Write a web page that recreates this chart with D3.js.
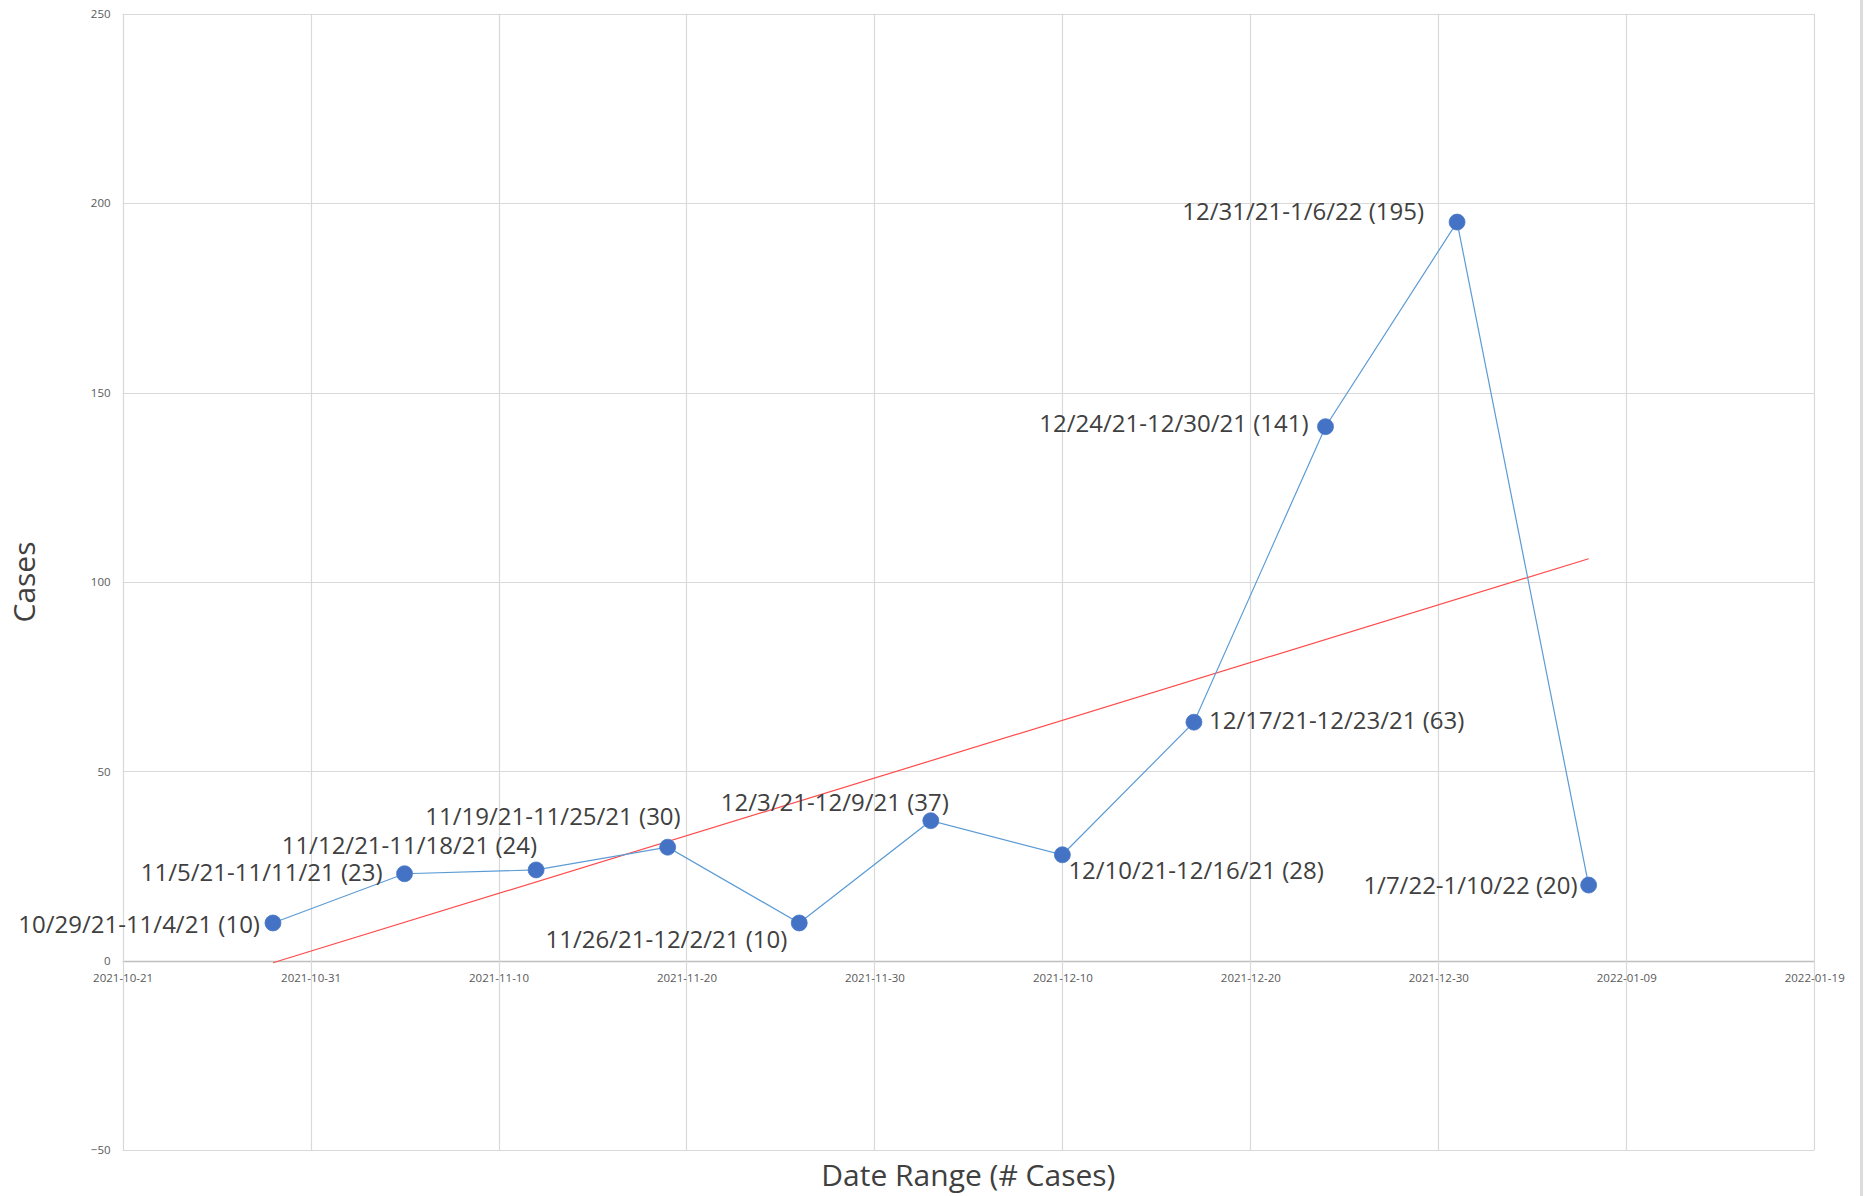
<!DOCTYPE html>
<html>
<head>
<meta charset="utf-8">
<script src="https://cdn.jsdelivr.net/npm/d3@7"></script>
<style>
  html, body { margin: 0; padding: 0; background: #fff; }
  svg { display: block; }
  text { font-family: "Open Sans", "Noto Sans", sans-serif; }
</style>
</head>
<body>
<script>
// ---- data ----
const startDates = ["2021-10-29","2021-11-05","2021-11-12","2021-11-19","2021-11-26","2021-12-03","2021-12-10","2021-12-17","2021-12-24","2021-12-31","2022-01-07"];
const rangeLabels = ["10/29/21-11/4/21","11/5/21-11/11/21","11/12/21-11/18/21","11/19/21-11/25/21","11/26/21-12/2/21","12/3/21-12/9/21","12/10/21-12/16/21","12/17/21-12/23/21","12/24/21-12/30/21","12/31/21-1/6/22","1/7/22-1/10/22"];
const cases = [10, 23, 24, 30, 10, 37, 28, 63, 141, 195, 20];
const xTickDates = ["2021-10-21","2021-10-31","2021-11-10","2021-11-20","2021-11-30","2021-12-10","2021-12-20","2021-12-30","2022-01-09","2022-01-19"];
const yTicks = [-50, 0, 50, 100, 150, 200, 250];

// label placement (anchor, dx, dy-to-baseline) per point — styling only
const labelPlacement = [
  ["end", -13, 10], ["end", -22, 7], ["end", 1, -16], ["end", 13, -22],
  ["end", -12, 25], ["end", 18, -10], ["start", 6, 24], ["start", 15, 7],
  ["end", -17, 5], ["end", -33, -2], ["end", -11, 9]
];

const W = 1866, H = 1196;
const M = { left: 122.6, top: 13.7, right: 1814.2, bottom: 1150.3 };
const parse = d3.utcParse("%Y-%m-%d");
const fmt = d3.utcFormat("%Y-%m-%d");

const svg = d3.select("body").append("svg").attr("width", W).attr("height", H);

const x = d3.scaleUtc().domain([parse(xTickDates[0]), parse(xTickDates[xTickDates.length - 1])]).range([M.left, M.right]);
const y = d3.scaleLinear().domain([-50, 250]).range([M.bottom, M.top]);

// right edge strip
svg.append("rect").attr("x", 1860).attr("y", 0).attr("width", 3).attr("height", H).attr("fill", "#dcdcdc");

// gridlines
const grid = svg.append("g");
grid.selectAll("line.h").data(yTicks).join("line")
  .attr("x1", M.left).attr("x2", M.right)
  .attr("y1", d => Math.round(y(d)) + 0.5).attr("y2", d => Math.round(y(d)) + 0.5)
  .attr("stroke", d => d === 0 ? "#bfbfbf" : "#d9d9d9").attr("stroke-width", d => d === 0 ? 1.5 : 1.2);
grid.selectAll("line.v").data(xTickDates).join("line")
  .attr("x1", d => Math.round(x(parse(d))) + 0.5).attr("x2", d => Math.round(x(parse(d))) + 0.5)
  .attr("y1", M.top).attr("y2", M.bottom)
  .attr("stroke", "#d9d9d9").attr("stroke-width", 1.2);

// axes tick labels via d3 axes
const yAxis = d3.axisLeft(y).tickValues(yTicks).tickSize(0).tickPadding(12);
const gy = svg.append("g").attr("transform", `translate(${M.left},0)`).call(yAxis);
gy.select(".domain").remove();
gy.selectAll("text").attr("font-size", 11.5).attr("fill", "#595959").attr("font-family", "Open Sans");

const xAxis = d3.axisBottom(x).tickValues(xTickDates.map(parse)).tickFormat(fmt).tickSize(0).tickPadding(13);
const gx = svg.append("g").attr("transform", `translate(0,${y(0)})`).call(xAxis);
gx.select(".domain").remove();
gx.selectAll("text").attr("font-size", 11.5).attr("fill", "#595959").attr("font-family", "Open Sans");

// trendline (least squares on the data)
const pts = startDates.map((d, i) => ({ t: parse(d), v: cases[i], label: rangeLabels[i] }));
const xs = pts.map(p => +p.t), ys = pts.map(p => p.v);
const mx = d3.mean(xs), my = d3.mean(ys);
const slope = d3.sum(xs.map((xv, i) => (xv - mx) * (ys[i] - my))) / d3.sum(xs.map(xv => (xv - mx) ** 2));
const icpt = my - slope * mx;
const tEnds = [xs[0], xs[xs.length - 1]];
svg.append("line")
  .attr("x1", x(new Date(tEnds[0]))).attr("y1", y(icpt + slope * tEnds[0]))
  .attr("x2", x(new Date(tEnds[1]))).attr("y2", y(icpt + slope * tEnds[1]))
  .attr("stroke", "#ff4a4a").attr("stroke-width", 1.2);

// series line
svg.append("path").datum(pts)
  .attr("d", d3.line().x(p => x(p.t)).y(p => y(p.v)))
  .attr("fill", "none").attr("stroke", "#5b9bd5").attr("stroke-width", 1.2);

// markers
svg.selectAll("circle.pt").data(pts).join("circle")
  .attr("cx", p => x(p.t)).attr("cy", p => y(p.v)).attr("r", 8)
  .attr("fill", "#4472c4").attr("stroke", "#4a78c8").attr("stroke-width", 0.8);

// data labels
svg.selectAll("text.lbl").data(pts).join("text")
  .attr("x", (p, i) => x(p.t) + labelPlacement[i][1])
  .attr("y", (p, i) => y(p.v) + labelPlacement[i][2])
  .attr("text-anchor", (p, i) => labelPlacement[i][0])
  .attr("font-size", 24).attr("fill", "#404040")
  .text(p => `${p.label} (${p.v})`);

// axis titles
svg.append("text").attr("transform", `translate(23,582) rotate(-90)`)
  .attr("text-anchor", "middle").attr("dominant-baseline", "central")
  .attr("font-size", 30).attr("fill", "#404040").text("Cases");
svg.append("text").attr("x", (M.left + M.right) / 2).attr("y", 1186)
  .attr("text-anchor", "middle").attr("font-size", 30).attr("fill", "#404040").text("Date Range (# Cases)");
</script>
</body>
</html>
